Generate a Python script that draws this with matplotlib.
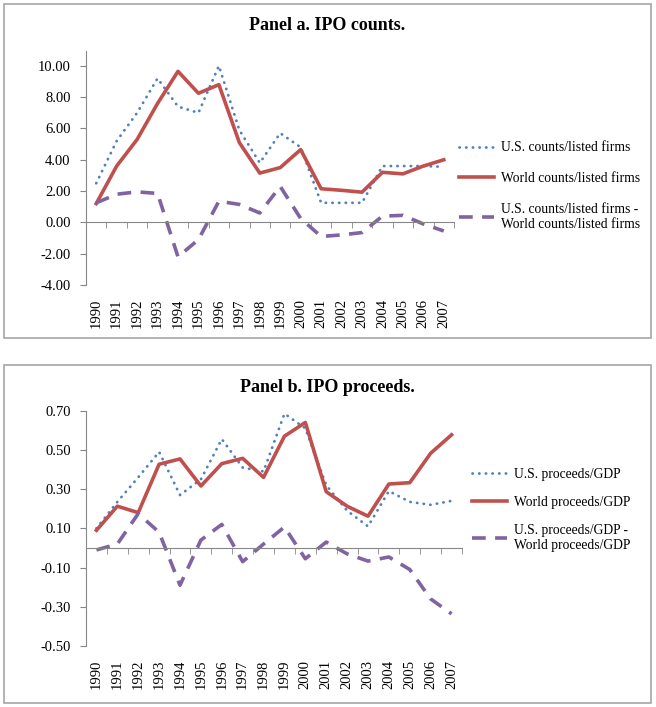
import numpy as np
import matplotlib
matplotlib.use("Agg")
import matplotlib.pyplot as plt
from matplotlib.patches import Rectangle

plt.rcParams['font.family'] = ['Liberation Serif', 'DejaVu Serif']

years = [str(y) for y in range(1990, 2008)]

# Panel a: IPO counts / listed firms
us_counts = [2.5, 5.2, 7.0, 9.2, 7.4, 7.0, 10.0, 5.9, 3.8, 5.7, 4.8, 1.25, 1.25, 1.25, 3.6, 3.6, 3.6, 3.55]
world_counts = [1.2, 3.6, 5.3, 7.6, 9.65, 8.25, 8.8, 5.1, 3.15, 3.5, 4.65, 2.15, 2.05, 1.93, 3.2, 3.1, 3.6, 4.0]
diff_counts = [1.25, 1.8, 1.95, 1.85, -2.2, -1.1, 1.35, 1.15, 0.6, 2.3, 0.25, -0.9, -0.8, -0.65, 0.4, 0.45, -0.1, -0.55]

# Panel b: IPO proceeds / GDP
us_proc = [0.10, 0.235, 0.36, 0.49, 0.27, 0.35, 0.555, 0.41, 0.39, 0.685, 0.61, 0.32, 0.19, 0.11, 0.29, 0.235, 0.22, 0.24]
world_proc = [0.09, 0.213, 0.18, 0.427, 0.454, 0.316, 0.43, 0.457, 0.36, 0.57, 0.64, 0.287, 0.213, 0.162, 0.326, 0.333, 0.483, 0.577]
diff_proc = [-0.01, 0.02, 0.175, 0.08, -0.19, 0.04, 0.12, -0.07, 0.02, 0.107, -0.055, 0.03, -0.03, -0.067, -0.046, -0.11, -0.26, -0.336]

labels_a = ["U.S. counts/listed firms", "World counts/listed firms",
            "U.S. counts/listed firms -\nWorld counts/listed firms"]
labels_b = ["U.S. proceeds/GDP", "World proceeds/GDP",
            "U.S. proceeds/GDP -\nWorld proceeds/GDP"]

blue = "#4F81BD"
red = "#C0504D"
purple = "#8064A2"
gray = "#868686"

W, H = 656, 707
fig = plt.figure(figsize=(W / 100, H / 100), dpi=100)

# panel frames
for (x0, y0, x1, y1) in [(4, 4, 651, 338), (4, 365, 651, 703)]:
    fig.patches.append(Rectangle((x0 / W, 1 - y1 / H), (x1 - x0) / W, (y1 - y0) / H,
                                 transform=fig.transFigure, fill=False,
                                 edgecolor="#A6A6A6", linewidth=1.2))


def panel(rect, us, world, diff, labels, ylim, yticks, fmt, title, title_y, leg_xy, leg_space):
    ax = fig.add_axes(rect)
    x = np.arange(len(years))
    ax.plot(x, us, color=blue, lw=2.0, linestyle=(0, (0.1, 2.3)),
            dash_capstyle='round', label=labels[0])
    ax.plot(x, world, color=red, lw=2.6, label=labels[1])
    ax.plot(x, diff, color=purple, lw=2.6, linestyle=(0, (3.8, 2.6)), label=labels[2])

    ax.set_xlim(-0.5, len(years) - 0.5)
    ax.set_ylim(*ylim)
    for s in ['top', 'right']:
        ax.spines[s].set_visible(False)
    ax.spines['left'].set_color(gray)
    ax.spines['bottom'].set_color(gray)
    ax.spines['bottom'].set_position(('data', 0))

    ax.set_yticks(yticks)
    ax.set_yticklabels([fmt.format(v) for v in yticks], fontsize=10.5)
    ax.tick_params(axis='y', direction='out', length=4, color=gray, pad=7)

    ax.set_xticks(np.arange(-0.5, len(years)), minor=True)
    ax.set_xticks([])
    ax.tick_params(axis='x', which='minor', direction='out', length=4, color=gray)

    sec = ax.secondary_xaxis('bottom')
    sec.set_xticks(x)
    sec.set_xticklabels(years, rotation=90, fontsize=10.5)
    sec.tick_params(length=0, pad=10)
    sec.spines['bottom'].set_visible(False)

    fig.text(327 / W, 1 - title_y / H, title, ha='center', va='center',
             fontsize=13, fontweight='bold')

    fig.legend(handles=ax.get_lines(), labels=labels, loc='center left',
               bbox_to_anchor=leg_xy, frameon=False, fontsize=9.8,
               handlelength=2.6, handletextpad=0.5, labelspacing=leg_space,
               borderpad=0, borderaxespad=0)
    return ax


panel([86 / W, 1 - 285 / H, 368 / W, 234 / H], us_counts, world_counts, diff_counts,
      labels_a, (-4, 10.95), np.arange(-4, 10.1, 2), "{:.2f}",
      "Panel a. IPO counts.", 25, (459 / W, 1 - 186 / H), 1.3)

panel([86 / W, 1 - 646 / H, 376 / W, 235.3 / H], us_proc, world_proc, diff_proc,
      labels_b, (-0.5, 0.7), np.round(np.arange(-0.5, 0.71, 0.2), 2), "{:.2f}",
      "Panel b. IPO proceeds.", 387, (472 / W, 1 - 510 / H), 1.12)

fig.savefig("out.png", dpi=100)
